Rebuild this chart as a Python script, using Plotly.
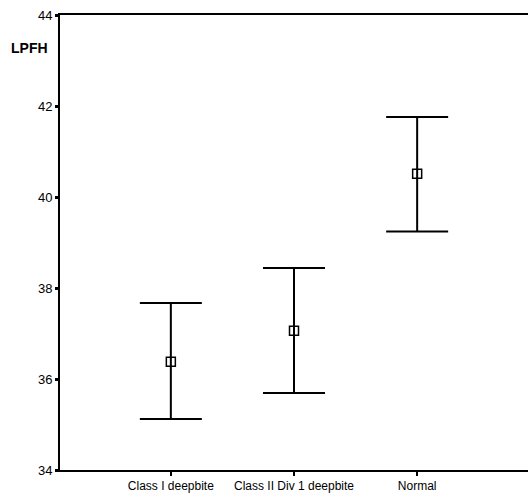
import plotly.graph_objects as go

categories = ["Class I deepbite", "Class II Div 1 deepbite", "Normal"]
means = [36.38, 37.06, 40.51]
upper = [37.67, 38.44, 41.76]
lower = [35.12, 35.69, 39.24]
y_ticks = [34, 36, 38, 40, 42, 44]

err_plus = [u - m for u, m in zip(upper, means)]
err_minus = [m - l for m, l in zip(means, lower)]

fig = go.Figure()
fig.add_trace(go.Scatter(
    x=categories, y=means, mode="markers",
    marker=dict(symbol="square-open", size=9, color="black", line=dict(width=1.5, color="black")),
    error_y=dict(type="data", symmetric=False, array=err_plus, arrayminus=err_minus,
                 color="black", thickness=2, width=31),
    showlegend=False,
))

font = dict(family="Liberation Sans, Arial, sans-serif", size=12, color="black")
fig.update_layout(
    width=528, height=499,
    margin=dict(l=60, r=0, t=15, b=29),
    paper_bgcolor="white", plot_bgcolor="white",
    font=font,
    xaxis=dict(type="category", range=[-0.9, 2.9], showline=True, linecolor="black", linewidth=2,
               mirror=True, ticks="outside", ticklen=4, tickwidth=2, tickcolor="black",
               showgrid=False, zeroline=False, tickfont=dict(size=12)),
    yaxis=dict(range=[34, 44], tickvals=y_ticks, showline=True, linecolor="black", linewidth=2,
               ticks="outside", ticklen=3, tickwidth=3, tickcolor="black",
               showgrid=False, zeroline=False, tickfont=dict(size=13)),
    annotations=[dict(text="<b>LPFH</b>", xref="paper", yref="y", x=-0.065, y=43.27,
                      xanchor="center", yanchor="middle", showarrow=False,
                      font=dict(family="Liberation Sans, Arial, sans-serif", size=14, color="black"))],
)

fig.write_html("out.html")
